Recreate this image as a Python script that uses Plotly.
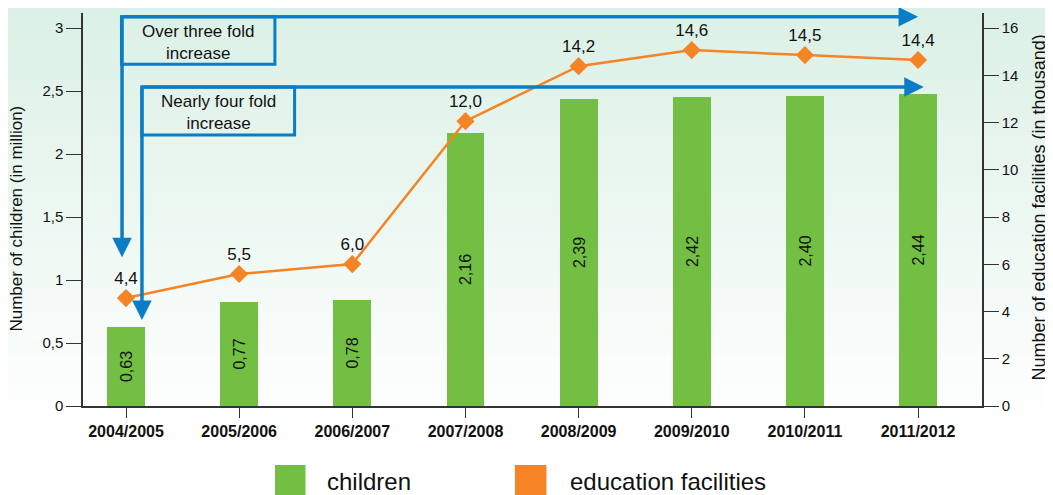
# Children and education facilities chart
import plotly.graph_objects as go

# ----------------------------------------------------------------------------------------------------------------------
# Data
# ----------------------------------------------------------------------------------------------------------------------
years = ["2004/2005", "2005/2006", "2006/2007", "2007/2008", "2008/2009", "2009/2010", "2010/2011", "2011/2012"]
children = [0.627, 0.825, 0.841, 2.167, 2.437, 2.452, 2.46, 2.476]
children_labels = ["0,63", "0,77", "0,78", "2,16", "2,39", "2,42", "2,40", "2,44"]
facilities = [4.57, 5.59, 6.01, 12.06, 14.39, 15.07, 14.86, 14.65]
facilities_labels = ["4,4", "5,5", "6,0", "12,0", "14,2", "14,6", "14,5", "14,4"]

# ----------------------------------------------------------------------------------------------------------------------
# Style
# ----------------------------------------------------------------------------------------------------------------------
GREEN = "#72bf44"
ORANGE = "#f58426"
BLUE = "#0a7dc4"
AXIS = "#333333"
FONT = "Liberation Sans, Arial, sans-serif"
NARROW = "Liberation Sans Narrow, Arial Narrow, Liberation Sans, sans-serif"

x = list(range(len(years)))

fig = go.Figure()

fig.add_trace(go.Bar(x=x, y=children, width=0.335, marker=dict(color=GREEN, line=dict(width=0)),
                     text=children_labels, texttemplate="%{text}", textposition="inside",
                     insidetextanchor="middle", textangle=-90, constraintext="none",
                     textfont=dict(family=FONT, size=16, color="#111111"),
                     name="children", showlegend=False, yaxis="y"))

fig.add_trace(go.Scatter(x=x, y=facilities, mode="lines+markers+text", yaxis="y2",
                         line=dict(color=ORANGE, width=2.5),
                         marker=dict(symbol="diamond", size=14, color=ORANGE),
                         text=facilities_labels, textposition="top center",
                         textfont=dict(family=FONT, size=17, color="#111111"),
                         name="education facilities", showlegend=False, cliponaxis=False))

# background gradient (mint at top fading to white)
shapes = []
n = 60
plot_top, plot_bottom = 5, 398          # plot area in figure pixels
h = plot_bottom - plot_top
top_px, bottom_px = -8, 420
c0 = (218, 240, 229)
for i in range(n):
    p0 = top_px + (bottom_px - top_px) * i / n
    p1 = top_px + (bottom_px - top_px) * (i + 1) / n
    t = (i + 0.5) / n
    r, g, b = [round(c + (255 - c) * t) for c in c0]
    shapes.append(dict(type="rect", xref="paper", yref="paper", x0=-0.2, x1=1.2,
                       y0=(plot_bottom - p1) / h, y1=(plot_bottom - p0) / h + 0.001,
                       fillcolor=f"rgb({r},{g},{b})", line=dict(width=0), layer="below"))

# arrow lines and boxes
arrows = [
    # x_vert, y_top, y_tip, x_tip
    (-0.035, 3.09, 1.18, 7.0),
    (0.141, 2.532, 0.683, 7.05),
]
boxes = [
    (-0.04, 1.316, 2.714, 3.09, "Over three fold<br>increase", 0.638),
    (0.141, 1.49, 2.151, 2.532, "Nearly four fold<br>increase", 0.815),
]
annotations = []
for xv, yt, ytip, xtip in arrows:
    shapes.append(dict(type="path", xref="x", yref="y",
                       path=f"M {xv} {ytip + 0.1} L {xv} {yt} L {xtip - 0.1} {yt}",
                       line=dict(color=BLUE, width=3)))
    annotations.append(dict(x=xv, y=ytip, ax=xv, ay=yt, xref="x", yref="y", axref="x", ayref="y",
                            text="", showarrow=True, arrowhead=2, arrowsize=1.3, arrowwidth=3,
                            arrowcolor=BLUE))
    annotations.append(dict(x=xtip, y=yt, ax=xv, ay=yt, xref="x", yref="y", axref="x", ayref="y",
                            text="", showarrow=True, arrowhead=2, arrowsize=1.3, arrowwidth=3,
                            arrowcolor=BLUE))
for x0, x1, y0, y1, label, xc in boxes:
    shapes.append(dict(type="rect", xref="x", yref="y", x0=x0, x1=x1, y0=y0, y1=y1,
                       line=dict(color=BLUE, width=3)))
    annotations.append(dict(x=xc, y=(y0 + y1) / 2 - 0.015, xref="x", yref="y", text=label, showarrow=False,
                            font=dict(family=FONT, size=17, color="#111111")))

# axis titles placed by hand to sit close to the page edges
annotations.append(dict(x=-0.0734, y=0.477, xref="paper", yref="paper", text="Number of children (in million)",
                        textangle=-90, showarrow=False, xanchor="center", yanchor="middle",
                        font=dict(family=FONT, size=17, color="#111111")))
annotations.append(dict(x=1.0634, y=0.505, xref="paper", yref="paper",
                        text="Number of education facilities (in thousand)",
                        textangle=-90, showarrow=False, xanchor="center", yanchor="middle",
                        font=dict(family=FONT, size=18, color="#111111")))

# custom legend
legend_items = [("children", GREEN, 0.2136, 0.2475, 0.2692),
                ("education facilities", ORANGE, 0.4805, 0.5155, 0.5395)]
for name, color, sx0, sx1, tx in legend_items:
    shapes.append(dict(type="rect", xref="paper", yref="paper", x0=sx0, x1=sx1, y0=-0.235, y1=-0.150,
                       fillcolor=color, line=dict(width=0)))
    annotations.append(dict(x=tx, y=-0.192, xref="paper", yref="paper", text=name, showarrow=False,
                            xanchor="left", yanchor="middle",
                            font=dict(family=FONT, size=24, color="#111111")))

# page body has an 8px margin, so the figure is sized and offset to fit the window
fig.update_layout(
    width=1045, height=487,
    margin=dict(l=75, r=71, t=5, b=89),
    paper_bgcolor="white", plot_bgcolor="rgba(0,0,0,0)",
    separators=",.",
    font=dict(family=FONT, size=15, color="#111111"),
    shapes=shapes, annotations=annotations,
    bargap=0,
    xaxis=dict(range=[-0.38, 7.565], tickmode="array", tickvals=x, ticktext=years,
               showgrid=False, zeroline=False, showline=True, linecolor=AXIS, linewidth=1.5,
               ticks="outside", ticklen=10, tickcolor=AXIS, tickwidth=1.2,
               tickfont=dict(family=NARROW, size=16, color="#111111", weight="bold")),
    yaxis=dict(range=[0, 3.12], tickvals=[0, 0.5, 1, 1.5, 2, 2.5, 3],
               showgrid=False, zeroline=False, showline=True, linecolor=AXIS, linewidth=1.5,
               ticks="outside", ticklen=15, tickcolor=AXIS, tickwidth=1.2,
               tickfont=dict(size=15)),
    yaxis2=dict(range=[0, 16.64], dtick=2, overlaying="y", side="right",
                showgrid=False, zeroline=False, showline=True, linecolor=AXIS, linewidth=1.5,
                ticks="outside", ticklen=15, tickcolor=AXIS, tickwidth=1.2,
                tickfont=dict(size=15)),
)

fig.write_html("out.html")
